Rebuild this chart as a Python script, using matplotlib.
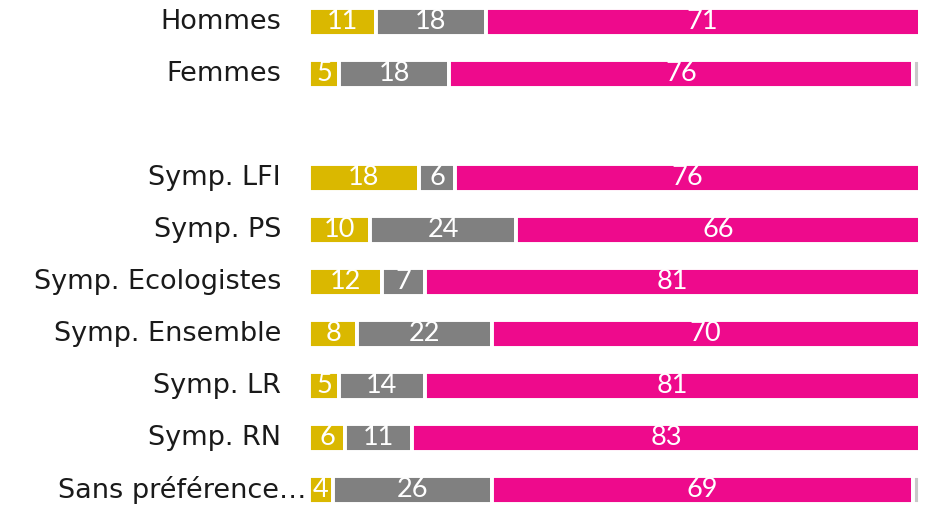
import numpy as np
import matplotlib
matplotlib.use("Agg")
import matplotlib.pyplot as plt

categories = ["Hommes", "Femmes", "", "Symp. LFI", "Symp. PS", "Symp. Ecologistes",
              "Symp. Ensemble", "Symp. LR", "Symp. RN", "Sans préférence…"]
yellow_vals = [11, 5, 0, 18, 10, 12, 8, 5, 6, 4]
gray_vals = [18, 18, 0, 6, 24, 7, 22, 14, 11, 26]
pink_vals = [71, 76, 0, 76, 66, 81, 70, 81, 83, 69]
rest_vals = [0, 1, 0, 0, 0, 0, 0, 0, 0, 1]

colors = ["#DAB800", "#808080", "#EE0A8C", "#C8C8C8"]

plt.rcParams['font.family'] = ['DejaVu Sans']

fig = plt.figure(figsize=(9.25, 5.05), dpi=100)
ax = fig.add_axes([308.6 / 925, -11 / 505, 611 / 925, 520 / 505])

y = np.arange(len(categories))
left = np.zeros(len(categories))
for vals, col in zip([yellow_vals, gray_vals, pink_vals, rest_vals], colors):
    vals = np.array(vals, dtype=float)
    ax.barh(y, vals, left=left, height=0.52, color=col, edgecolor="white", linewidth=2.8)
    for yi, v, l in zip(y, vals, left):
        if v >= 2:
            ax.text(l + v / 2, yi, str(int(v)), ha="center", va="center",
                    color="white", fontsize=19.5, family="Lato")
    left += vals

ax.set_xlim(0, 100)
ax.set_ylim(len(categories) - 0.5, -0.5)
for yi, cat in zip(y, categories):
    # the last label is truncated in the source and runs into the bar
    xr = -0.3 if cat.endswith("…") else -4.5
    ax.text(xr, yi, cat, ha="right", va="center", fontsize=19.5, color="#1a1a1a")
ax.axis("off")

fig.savefig("out.png", dpi=100)
